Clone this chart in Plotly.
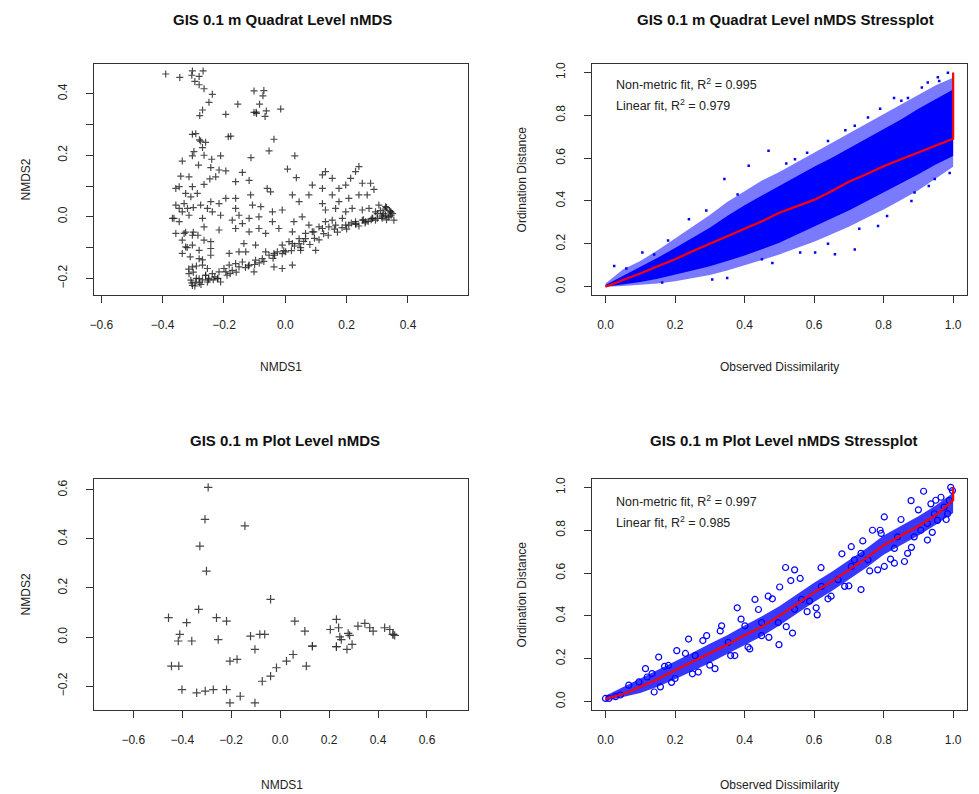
import plotly.graph_objects as go

# ---------------- data ----------------
# Top-left: GIS 0.1 m Quadrat Level nMDS (site scores)
quad_nmds1 = [-0.390,-0.344,-0.303,-0.281,-0.268,-0.281,-0.265,-0.238,-0.249,-0.270,-0.279,-0.102,-0.073,-0.084,-0.155,-0.015,
 -0.102,-0.094,-0.066,-0.062,-0.194,-0.303,-0.292,-0.276,-0.260,-0.270,-0.298,-0.303,-0.283,-0.336,-0.186,-0.178,-0.037,-0.053,
 -0.112,0.031,-0.211,-0.240,-0.243,-0.216,-0.194,0.007,0.036,-0.140,-0.118,-0.162,-0.246,-0.227,-0.314,-0.341,-0.265,-0.346,
 -0.357,-0.303,-0.325,-0.308,-0.287,-0.357,-0.330,-0.314,-0.363,-0.346,-0.243,-0.216,-0.194,-0.162,-0.162,-0.113,-0.059,-0.048,
 -0.107,-0.080,-0.276,-0.254,-0.238,-0.211,-0.270,-0.265,-0.216,-0.173,-0.151,-0.118,-0.086,-0.042,-0.010,0.023,0.045,0.088,
 0.121,0.131,0.153,0.175,0.197,0.213,0.240,0.229,0.251,0.278,0.289,0.077,0.121,0.153,0.175,0.207,0.240,0.267,0.305,0.327,
 0.343,0.354,0.327,0.294,0.121,0.131,0.164,0.197,0.218,0.251,0.273,0.055,0.028,0.077,0.110,0.131,0.153,0.186,0.207,0.229,
 0.251,0.283,0.316,-0.042,-0.021,-0.064,-0.086,-0.118,-0.140,-0.162,0.023,0.045,0.066,0.088,-0.357,-0.330,-0.303,-0.336,
 -0.325,-0.303,-0.336,-0.281,-0.265,-0.243,-0.243,-0.243,-0.281,-0.183,-0.151,-0.129,-0.135,-0.097,-0.064,-0.037,-0.010,0.012,
 0.050,0.099,-0.303,-0.314,-0.308,-0.292,-0.303,-0.281,-0.260,-0.254,-0.238,-0.216,-0.200,-0.183,-0.162,-0.140,-0.118,-0.097,
 -0.075,-0.053,-0.026,0.001,-0.270,-0.254,-0.221,-0.211,-0.194,-0.173,-0.151,-0.102,-0.037,-0.010,0.023,0.023,0.045,0.066,
 0.093,0.121,0.142,0.164,0.197,0.229,0.262,0.294,0.316,0.338,-0.336,-0.319,-0.346,-0.368,
 0.300,0.320,0.340,0.330,0.345,0.350,0.310,0.330,-0.280,-0.290,-0.270,-0.250,-0.260,-0.230,-0.300,-0.300,-0.320,-0.310,-0.290,
 0.260,0.280,0.240,0.200,0.170,0.140,0.110,0.080,0.050,0.020,-0.010,-0.040,-0.070,-0.100,-0.130,-0.160,-0.190,-0.220,-0.250,
 0.335,0.345,0.325,0.315,0.300,0.285,0.270,0.255,0.230,0.215,0.185,0.160,0.125,0.095,0.060,0.030,-0.005,-0.035,-0.085,-0.120,
 -0.180,-0.235,-0.275,-0.295,-0.305,-0.315,-0.325,-0.300,-0.285,-0.270,-0.280,-0.265,-0.095,-0.070,-0.295,-0.305]
quad_nmds2 = [0.464,0.453,0.474,0.456,0.474,0.429,0.416,0.398,0.372,0.347,0.329,0.409,0.393,0.366,0.366,0.350,
 0.339,0.336,0.326,0.344,0.333,0.268,0.270,0.246,0.242,0.225,0.212,0.198,0.168,0.181,0.260,0.262,0.252,0.214,
 0.192,0.198,0.198,0.187,0.160,0.152,0.149,0.155,0.127,0.144,0.118,0.114,0.123,0.130,0.130,0.132,0.105,0.098,
 0.092,0.098,0.076,0.065,0.076,0.038,0.043,0.005,-0.005,-0.016,0.049,0.043,0.060,0.060,0.027,0.071,0.092,0.081,
 0.038,0.033,0.038,0.027,0.016,0.005,-0.005,-0.033,-0.043,-0.011,0.005,-0.005,0.000,0.016,0.022,0.071,0.049,0.103,
 0.136,0.147,0.125,0.092,0.103,0.125,0.163,0.147,0.109,0.109,0.089,0.071,0.092,0.071,0.049,0.060,0.071,0.071,0.038,0.033,
 0.016,-0.011,0.005,0.016,0.043,0.022,0.027,0.016,0.027,0.022,0.027,0.000,-0.016,-0.027,-0.033,-0.016,-0.011,-0.005,-0.027,-0.016,
 -0.011,-0.005,0.005,-0.016,-0.038,-0.054,-0.038,-0.049,-0.022,-0.038,-0.049,-0.071,-0.054,-0.049,-0.054,-0.054,-0.060,-0.076,
 -0.098,-0.092,-0.119,-0.109,-0.076,-0.081,-0.103,-0.125,-0.136,-0.119,-0.114,-0.114,-0.087,-0.092,-0.114,-0.119,-0.092,-0.081,
 -0.109,-0.109,-0.163,-0.185,-0.206,-0.212,-0.223,-0.201,-0.190,-0.212,-0.185,-0.179,-0.168,-0.157,-0.152,-0.147,-0.157,-0.141,
 -0.136,-0.125,-0.114,-0.114,-0.157,-0.168,-0.201,-0.212,-0.179,-0.174,-0.163,-0.179,-0.163,-0.168,-0.157,-0.087,-0.087,-0.071,
 -0.049,-0.038,-0.033,-0.027,-0.027,-0.022,-0.016,-0.011,-0.005,0.000,0.016,0.027,0.027,-0.005,
 -0.005,0.010,0.020,-0.010,0.005,0.010,0.020,0.030,-0.215,-0.200,-0.205,-0.200,-0.190,-0.195,-0.180,-0.050,-0.100,-0.130,-0.160,
 -0.020,-0.010,-0.030,-0.040,-0.050,-0.060,-0.075,-0.090,-0.100,-0.110,-0.120,-0.135,-0.145,-0.155,-0.165,-0.180,-0.190,-0.200,-0.205,
 0.000,0.015,0.025,0.000,0.010,-0.005,-0.015,-0.010,-0.025,-0.020,-0.035,-0.040,-0.055,-0.070,-0.080,-0.095,-0.110,-0.125,-0.150,-0.160,
 -0.185,-0.205,-0.220,-0.225,-0.215,-0.170,-0.050,0.030,-0.060,-0.140,0.250,0.200,0.340,0.410,0.440,0.460]

# Bottom-left: GIS 0.1 m Plot Level nMDS (site scores)
plot_nmds1 = [-0.294,-0.307,-0.144,-0.328,-0.301,-0.039,-0.456,-0.333,-0.260,-0.219,-0.382,-0.410,-0.416,-0.361,-0.253,
 -0.121,-0.083,-0.063,-0.103,0.060,0.101,0.132,0.132,0.230,0.205,0.239,0.244,0.250,0.230,0.230,0.278,0.284,0.273,0.294,
 0.318,0.346,0.366,0.380,0.427,0.448,0.461,0.461,0.468,-0.444,-0.414,-0.205,-0.176,0.053,0.026,-0.015,-0.039,-0.073,0.107,
 -0.401,-0.341,-0.306,-0.273,-0.219,-0.163,-0.205,-0.103]
plot_nmds2 = [0.610,0.480,0.453,0.371,0.269,0.154,0.079,0.113,0.079,0.065,0.059,0.011,-0.016,-0.016,-0.010,
 0.004,0.011,0.011,-0.050,0.065,0.024,-0.037,-0.037,0.072,0.031,0.038,0.001,-0.010,-0.039,-0.039,0.015,0.007,-0.050,-0.030,
 0.045,0.056,0.038,0.024,0.038,0.031,0.011,0.011,0.007,-0.118,-0.118,-0.098,-0.091,-0.071,-0.098,-0.125,-0.159,-0.180,-0.118,
 -0.214,-0.227,-0.220,-0.214,-0.214,-0.241,-0.268,-0.268]

# Top-right: quadrat stressplot (dense cloud envelope + scattered outliers + monotone fit)
q_band_x = [0.0, 0.05, 0.1, 0.15, 0.2, 0.25, 0.3, 0.35, 0.4, 0.45, 0.5, 0.55, 0.6, 0.65, 0.7, 0.75, 0.8, 0.85, 0.9, 0.95, 1.0]
q_fringe_hi = [0.015, 0.080, 0.120, 0.170, 0.225, 0.280, 0.335, 0.395, 0.445, 0.495, 0.535, 0.580, 0.625, 0.670, 0.715, 0.760, 0.805, 0.850, 0.895, 0.940, 0.975]
q_fringe_lo = [0.0, 0.003, 0.008, 0.015, 0.025, 0.040, 0.055, 0.075, 0.100, 0.125, 0.150, 0.180, 0.210, 0.245, 0.280, 0.320, 0.360, 0.405, 0.450, 0.505, 0.560]
q_core_hi = [0.008, 0.050, 0.090, 0.135, 0.180, 0.228, 0.275, 0.330, 0.380, 0.425, 0.470, 0.515, 0.560, 0.600, 0.645, 0.690, 0.735, 0.780, 0.830, 0.875, 0.920]
q_core_lo = [0.0, 0.010, 0.022, 0.037, 0.055, 0.075, 0.095, 0.120, 0.145, 0.175, 0.205, 0.240, 0.280, 0.318, 0.355, 0.398, 0.440, 0.482, 0.525, 0.570, 0.610]
q_out_x = [0.469,0.342,0.660,0.717,0.851,0.985,0.025,0.106,0.240,0.412,0.545,0.603,0.784,0.889,0.927,0.956,0.755,0.717,0.450,0.307,0.163,0.947,0.980,
 0.180,0.290,0.380,0.520,0.580,0.640,0.690,0.790,0.830,0.870,0.910,0.960,0.060,0.140,0.350,0.480,0.560,0.640,0.730,0.810,0.880,0.930,0.990]
q_out_y = [0.634,0.502,0.151,0.174,0.868,0.998,0.097,0.159,0.315,0.564,0.595,0.159,0.283,0.439,0.953,0.977,0.790,0.751,0.128,0.034,0.019,0.502,0.611,
 0.215,0.355,0.430,0.575,0.625,0.680,0.730,0.830,0.880,0.880,0.930,0.960,0.085,0.150,0.040,0.110,0.160,0.200,0.270,0.330,0.400,0.470,0.530]
q_fit_x = [0, 0.05, 0.1, 0.15, 0.2, 0.25, 0.3, 0.35, 0.4, 0.45, 0.5, 0.55, 0.6, 0.65, 0.7, 0.75, 0.8, 0.85, 0.9, 0.95, 0.99, 1.0, 1.0]
q_fit_y = [0.0, 0.03, 0.062, 0.095, 0.128, 0.165, 0.2, 0.235, 0.268, 0.305, 0.345, 0.375, 0.405, 0.445, 0.49, 0.525, 0.562, 0.595, 0.626, 0.66, 0.685, 0.69, 1.0]

# Bottom-right: plot stressplot
p_band_x = [0.0, 0.05, 0.1, 0.15, 0.2, 0.25, 0.3, 0.35, 0.4, 0.45, 0.5, 0.55, 0.6, 0.65, 0.7, 0.75, 0.8, 0.85, 0.9, 0.95, 1.0]
p_core_hi = [0.028, 0.068, 0.105, 0.145, 0.188, 0.228, 0.270, 0.310, 0.355, 0.398, 0.445, 0.500, 0.555, 0.605, 0.660, 0.715, 0.775, 0.820, 0.865, 0.915, 0.975]
p_core_lo = [0.004, 0.022, 0.040, 0.070, 0.105, 0.142, 0.180, 0.222, 0.265, 0.305, 0.355, 0.410, 0.465, 0.515, 0.570, 0.625, 0.685, 0.730, 0.775, 0.825, 0.880]
p_pts_x = [0.518,0.544,0.533,0.501,0.430,0.379,0.468,0.499,0.538,0.609,0.606,0.649,0.735,0.802,0.768,0.793,0.879,0.915,0.936,0.965,
 0.831,0.860,0.802,0.926,0.205,0.200,0.158,0.267,0.315,0.372,0.415,0.291,0.334,0.115,0.153,0.239,0.449,0.544,0.587,0.688,
 0.707,0.735,0.716,0.831,0.869,0.783,0.907,0.955,0.984,0.993,0.998,0.989,0.974,0.067,0.096,0.134,0.029,0.010,0.000,0.043,
 0.181,0.258,0.353,0.401,0.449,0.497,0.564,0.621,0.669,0.707,0.755,0.840,0.888,0.926,0.946,
 0.120,0.170,0.230,0.280,0.330,0.390,0.440,0.480,0.560,0.620,0.680,0.740,0.790,0.850,0.900,0.950,
 0.140,0.190,0.250,0.300,0.360,0.410,0.470,0.520,0.580,0.640,0.700,0.760,0.820,0.880,0.940,0.980]
p_pts_y = [0.626,0.615,0.565,0.535,0.477,0.438,0.492,0.266,0.320,0.405,0.438,0.492,0.523,0.862,0.800,0.785,0.938,0.982,0.923,0.954,
 0.646,0.654,0.631,0.754,0.238,0.108,0.069,0.138,0.154,0.215,0.246,0.308,0.354,0.154,0.208,0.292,0.369,0.431,0.469,0.538,
 0.723,0.692,0.662,0.715,0.692,0.615,0.800,0.846,0.877,1.000,0.985,0.938,0.908,0.077,0.092,0.131,0.023,0.015,0.015,0.031,
 0.169,0.215,0.277,0.354,0.308,0.369,0.477,0.538,0.569,0.631,0.662,0.769,0.769,0.831,0.877,
 0.115,0.165,0.225,0.285,0.330,0.385,0.430,0.480,0.575,0.625,0.690,0.750,0.800,0.850,0.895,0.940,
 0.045,0.090,0.130,0.170,0.215,0.255,0.300,0.350,0.420,0.480,0.540,0.610,0.665,0.720,0.790,0.850]
p_fit_x = [0, 0.03, 0.06, 0.1, 0.15, 0.2, 0.25, 0.3, 0.35, 0.4, 0.45, 0.5, 0.55, 0.6, 0.65, 0.7, 0.75, 0.8, 0.85, 0.9, 0.95, 0.98, 1.0, 1.0]
p_fit_y = [0.012, 0.025, 0.04, 0.07, 0.105, 0.146, 0.185, 0.225, 0.265, 0.31, 0.35, 0.40, 0.455, 0.51, 0.56, 0.615, 0.67, 0.73, 0.775, 0.82, 0.87, 0.91, 0.94, 1.0]

titles = ["GIS 0.1 m Quadrat Level nMDS", "GIS 0.1 m Quadrat Level nMDS Stressplot",
          "GIS 0.1 m Plot Level nMDS", "GIS 0.1 m Plot Level nMDS Stressplot"]
fit_text = [("0.995", "0.979"), ("0.997", "0.985")]

# ---------------- figure ----------------
W, H = 979, 794
FONT = "Liberation Sans, Arial, sans-serif"
BLUE = "#0000ff"
RED = "#ff0000"

def px(v):
    return v / W

def py(v):
    return 1 - v / H

fig = go.Figure()

# top-left nMDS
fig.add_trace(go.Scatter(x=quad_nmds1, y=quad_nmds2, mode="markers", xaxis="x", yaxis="y",
    marker=dict(symbol="cross-thin", size=5, line=dict(width=1.2, color="rgba(30,30,30,0.8)")),
    showlegend=False, hoverinfo="skip"))

# bottom-left nMDS
fig.add_trace(go.Scatter(x=plot_nmds1, y=plot_nmds2, mode="markers", xaxis="x3", yaxis="y3",
    marker=dict(symbol="cross-thin", size=6, line=dict(width=1.2, color="rgba(50,50,50,0.9)")),
    showlegend=False, hoverinfo="skip"))

# top-right stressplot
fig.add_trace(go.Scatter(x=q_band_x + q_band_x[::-1], y=q_fringe_hi + q_fringe_lo[::-1], mode="lines",
    fill="toself", fillcolor="rgba(40,40,255,0.62)", line=dict(width=0), xaxis="x2", yaxis="y2",
    showlegend=False, hoverinfo="skip"))
fig.add_trace(go.Scatter(x=q_band_x + q_band_x[::-1], y=q_core_hi + q_core_lo[::-1], mode="lines",
    fill="toself", fillcolor=BLUE, line=dict(width=0), xaxis="x2", yaxis="y2",
    showlegend=False, hoverinfo="skip"))
fig.add_trace(go.Scatter(x=q_out_x, y=q_out_y, mode="markers", xaxis="x2", yaxis="y2",
    marker=dict(symbol="square", size=2.5, color=BLUE), showlegend=False, hoverinfo="skip"))
fig.add_trace(go.Scatter(x=q_fit_x, y=q_fit_y, mode="lines", xaxis="x2", yaxis="y2",
    line=dict(color=RED, width=2.2), showlegend=False, hoverinfo="skip"))

# bottom-right stressplot
fig.add_trace(go.Scatter(x=p_band_x + p_band_x[::-1], y=p_core_hi + p_core_lo[::-1], mode="lines",
    fill="toself", fillcolor="rgba(20,20,255,0.85)", line=dict(width=0), xaxis="x4", yaxis="y4",
    showlegend=False, hoverinfo="skip"))
fig.add_trace(go.Scatter(x=p_pts_x, y=p_pts_y, mode="markers", xaxis="x4", yaxis="y4",
    marker=dict(symbol="circle-open", size=6, color=BLUE, line=dict(width=1.2)),
    showlegend=False, hoverinfo="skip"))
fig.add_trace(go.Scatter(x=p_fit_x, y=p_fit_y, mode="lines", xaxis="x4", yaxis="y4",
    line=dict(color=RED, width=2.2), showlegend=False, hoverinfo="skip"))

tickfont = dict(family=FONT, size=12, color="#222")

def xax(domain, rng, dtick, anchor):
    return dict(domain=domain, range=rng, dtick=dtick, tick0=0, anchor=anchor,
                showline=True, mirror=True, linecolor="#333", linewidth=1,
                ticks="outside", ticklen=7, tickcolor="#333", tickwidth=1,
                showgrid=False, zeroline=False, tickfont=tickfont,
                ticklabelstandoff=11, tickformat=".1f", fixedrange=True)

def yax(domain, rng, dtick, anchor, minor=None):
    d = dict(domain=domain, range=rng, dtick=dtick, tick0=0, anchor=anchor,
             showline=True, mirror=True, linecolor="#333", linewidth=1,
             ticks="outside", ticklen=7, tickcolor="#333", tickwidth=1,
             showgrid=False, zeroline=False, tickfont=tickfont, tickangle=-90,
             ticklabelstandoff=14, tickformat=".1f", fixedrange=True)
    if minor:
        d["minor"] = minor
    return d

L_dom = [px(90), px(466)]
R_dom = [px(590), px(967)]
T_dom = [py(294), py(62)]
B_dom = [py(710), py(478)]

fig.update_layout(
    width=W, height=H, margin=dict(l=0, r=0, t=0, b=0),
    paper_bgcolor="white", plot_bgcolor="white",
    xaxis=xax(L_dom, [-0.625, 0.596], 0.2, "y"),
    yaxis=yax(T_dom, [-0.255, 0.497], 0.2, "x",
              minor=dict(dtick=0.1, tick0=0, ticks="outside", ticklen=7, tickcolor="#333", showgrid=False)),
    xaxis2=xax(R_dom, [-0.04, 1.04], 0.2, "y2"),
    yaxis2=yax(T_dom, [-0.04, 1.04], 0.2, "x2"),
    xaxis3=xax(L_dom, [-0.762, 0.768], 0.2, "y3"),
    yaxis3=yax(B_dom, [-0.298, 0.645], 0.2, "x3"),
    xaxis4=xax(R_dom, [-0.04, 1.04], 0.2, "y4"),
    yaxis4=yax(B_dom, [-0.04, 1.04], 0.2, "x4"),
)

ann = []
title_font = dict(family=FONT, size=15, color="#111")
label_font = dict(family=FONT, size=12, color="#222")
centers_x = [px(280), px(785), px(282), px(783)]
title_y = [py(18), py(18), py(440), py(440)]
for t, cx, ty in zip(titles, centers_x, title_y):
    ann.append(dict(text="<b>" + t + "</b>", x=cx, y=ty, xref="paper", yref="paper",
                    xanchor="center", yanchor="middle", showarrow=False, font=title_font))
# axis titles
for cx, ty, txt in [(px(278), py(366), "NMDS1"), (px(779), py(366), "Observed Dissimilarity"),
                    (px(279), py(785), "NMDS1"), (px(779), py(785), "Observed Dissimilarity")]:
    ann.append(dict(text=txt, x=cx, y=ty, xref="paper", yref="paper", xanchor="center",
                    yanchor="middle", showarrow=False, font=label_font))
for cx, cy, txt in [(px(22), py(178), "NMDS2"), (px(520), py(178), "Ordination Distance"),
                    (px(22), py(594), "NMDS2"), (px(520), py(594), "Ordination Distance")]:
    ann.append(dict(text=txt, x=cx, y=cy, xref="paper", yref="paper", xanchor="center",
                    yanchor="middle", textangle=-90, showarrow=False, font=label_font))
# fit statistics
for (nm, lin), y1, y2 in zip(fit_text, [82, 500], [103, 521]):
    ann.append(dict(text="Non-metric fit, R<sup>2</sup> = " + nm, x=px(613), y=py(y1), xref="paper",
                    yref="paper", xanchor="left", yanchor="middle", showarrow=False,
                    font=dict(family=FONT, size=12.5, color="#222")))
    ann.append(dict(text="Linear fit, R<sup>2</sup> = " + lin, x=px(613), y=py(y2), xref="paper",
                    yref="paper", xanchor="left", yanchor="middle", showarrow=False,
                    font=dict(family=FONT, size=12.5, color="#222")))
fig.update_layout(annotations=ann)

fig.write_html("out.html")
